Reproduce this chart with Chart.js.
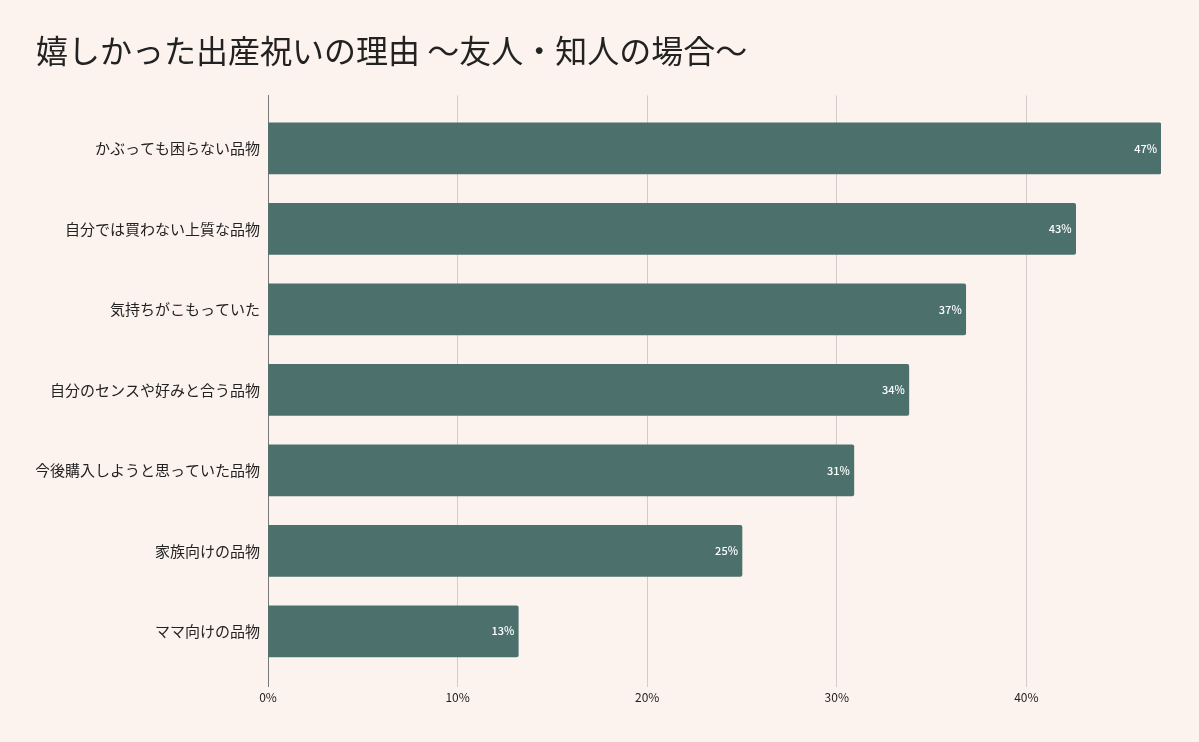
<!DOCTYPE html>
<html>
<head>
<meta charset="utf-8">
<script src="https://cdn.jsdelivr.net/npm/chart.js@4"></script>
<style>
	html, body { margin: 0; padding: 0; background: #fcf3ee; }
	#graph { display: block; }
</style>
</head>
<body>
<canvas id="graph" width="1199" height="742"></canvas>
<script>
const categories = [
	"かぶっても困らない品物",
	"自分では買わない上質な品物",
	"気持ちがこもっていた",
	"自分のセンスや好みと合う品物",
	"今後購入しようと思っていた品物",
	"家族向けの品物",
	"ママ向けの品物",
];
const values = [47.1, 42.6, 36.8, 33.8, 30.9, 25.0, 13.2];
const xTicks = [0, 10, 20, 30, 40];

const FONT = '"Noto Sans CJK JP", "Noto Sans", sans-serif';
Chart.defaults.font.family = FONT;
Chart.defaults.color = "#222";

// white % labels at the end of each bar
const barLabels = {
	id: "barLabels",
	afterDatasetsDraw(chart) {
		const ctx = chart.ctx;
		const meta = chart.getDatasetMeta(0);
		ctx.save();
		ctx.fillStyle = "#ffffff";
		ctx.font = "500 11px " + FONT;
		ctx.textAlign = "right";
		ctx.textBaseline = "middle";
		meta.data.forEach((bar, i) => {
			ctx.fillText(Math.round(values[i]) + "%", bar.x - 4, bar.y);
		});
		ctx.restore();
	},
};

new Chart(document.getElementById("graph"), {
	type: "bar",
	data: {
		datasets: [
			{
				data: values.map((v, i) => ({ x: v, y: i })),
				backgroundColor: "#4c716d",
				borderRadius: 2,
				borderSkipped: "start",
				barThickness: 51,
			},
		],
	},
	options: {
		indexAxis: "y",
		responsive: false,
		animation: false,
		layout: { padding: { top: 20, left: 36, right: 38, bottom: 33 } },
		plugins: {
			legend: { display: false },
			tooltip: { enabled: false },
			title: {
				display: true,
				text: "嬉しかった出産祝いの理由 〜友人・知人の場合〜",
				align: "start",
				color: "#222",
				font: { size: 32, weight: "normal" },
				padding: { top: 12, bottom: 25 },
			},
		},
		scales: {
			x: {
				type: "linear",
				min: 0,
				max: 47.1,
				grid: { color: "#d3ccc8", drawTicks: false },
				border: { display: false },
				afterBuildTicks: (scale) => {
					scale.ticks = xTicks.map((v) => ({ value: v }));
				},
				ticks: {
					padding: 4,
					font: { size: 12 },
					color: "#222",
					callback: (v) => v + "%",
				},
			},
			y: {
				type: "linear",
				reverse: true,
				offset: false,
				min: -0.658,
				max: 6.687,
				grid: { display: false, drawTicks: false },
				border: { display: true, color: "#777", width: 1 },
				afterBuildTicks: (scale) => {
					scale.ticks = categories.map((c, i) => ({ value: i }));
				},
				afterFit: (scale) => {
					scale.width = 232;
				},
				ticks: {
					padding: 8,
					autoSkip: false,
					font: { size: 15 },
					color: "#222",
					callback: (v) => categories[v],
				},
			},
		},
	},
	plugins: [barLabels],
});
</script>
</body>
</html>
